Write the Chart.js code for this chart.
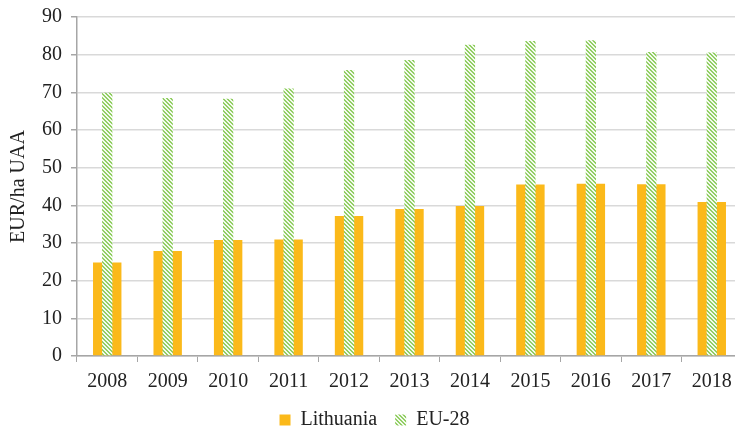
<!DOCTYPE html>
<html>
<head>
<meta charset="utf-8">
<script src="https://cdn.jsdelivr.net/npm/chart.js@4/dist/chart.umd.min.js"></script>
<style>
  html, body { margin: 0; padding: 0; background: #fff; overflow: hidden; }
  #wrap { width: 735px; height: 430px; overflow: hidden; }
  #payments { display: block; margin-top: -4px; }
</style>
</head>
<body>
<div id="wrap"><canvas id="payments" width="742" height="434"></canvas></div>
<script>
// years and payments per hectare (EUR/ha UAA)
var years = ['2008', '2009', '2010', '2011', '2012', '2013', '2014', '2015', '2016', '2017', '2018'];
var lithuania = [24.8, 27.9, 30.8, 30.9, 37.2, 39.0, 39.8, 45.5, 45.7, 45.6, 40.9];
var eu28 = [69.9, 68.5, 68.3, 71.0, 75.9, 78.6, 82.6, 83.6, 83.8, 80.7, 80.6];
var yTicks = [0, 10, 20, 30, 40, 50, 60, 70, 80, 90];

document.addEventListener('DOMContentLoaded', function(){

// diagonal hatch for the EU-28 bars
function hatch(color) {
    var c = document.createElement('canvas');
    c.width = 4; c.height = 4;
    var g = c.getContext('2d');
    g.fillStyle = '#f4faef';
    g.fillRect(0, 0, 4, 4);
    g.fillStyle = color;
    for (var i = 0; i < 4; i++) {
        g.fillRect(i, i, 1, 1);
        g.fillRect((i + 1) % 4, i, 1, 1);
    }
    return g.createPattern(c, 'repeat');
}

var ctx = document.getElementById('payments').getContext('2d');
var serif = "'Liberation Serif', 'Times New Roman', serif";

var chart = new Chart(ctx, {
    type: 'bar',
    data: {
        labels: years,
        datasets: [{
            label: 'EU-28',
            data: eu28,
            backgroundColor: hatch('#92cf64'),
            barPercentage: 0.17,
            categoryPercentage: 1,
            grouped: false
        }, {
            label: 'Lithuania',
            data: lithuania,
            backgroundColor: '#fbb91a',
            barPercentage: 0.47,
            categoryPercentage: 1,
            grouped: false
        }]
    },
    options: {
        responsive: false,
        animation: false,
        devicePixelRatio: 1,
        layout: { padding: { top: 0, right: 0, left: 7, bottom: -10 } },
        plugins: {
            tooltip: { enabled: false },
            legend: {
                position: 'bottom',
                labels: {
                    font: { family: serif, size: 20 },
                    color: '#222',
                    boxWidth: 11,
                    boxHeight: 11,
                    padding: 18,
                    sort: function(a, b) { return b.datasetIndex - a.datasetIndex; }
                }
            }
        },
        scales: {
            x: {
                grid: { offset: true, drawOnChartArea: false, tickLength: 6, color: '#a6a6a6' },
                border: { color: '#a6a6a6', width: 1.5 },
                ticks: { font: { family: serif, size: 20 }, color: '#222', padding: 8, maxRotation: 0 },
                afterFit: function(axis) { axis.height = 36; }
            },
            y: {
                min: 0,
                max: 90,
                afterBuildTicks: function(axis) {
                    axis.ticks = yTicks.map(function(v) { return { value: v }; });
                },
                grid: { color: '#d9d9d9', lineWidth: 1.5, tickLength: 6, tickColor: '#a6a6a6' },
                border: { color: '#a6a6a6', width: 1.5 },
                ticks: { font: { family: serif, size: 20 }, color: '#222', padding: 9 },
                title: {
                    display: true,
                    text: 'EUR/ha UAA',
                    font: { family: serif, size: 20 },
                    color: '#222',
                    padding: { top: 0, bottom: 2 }
                }
            }
        }
    }
});

});
</script>
</body>
</html>
